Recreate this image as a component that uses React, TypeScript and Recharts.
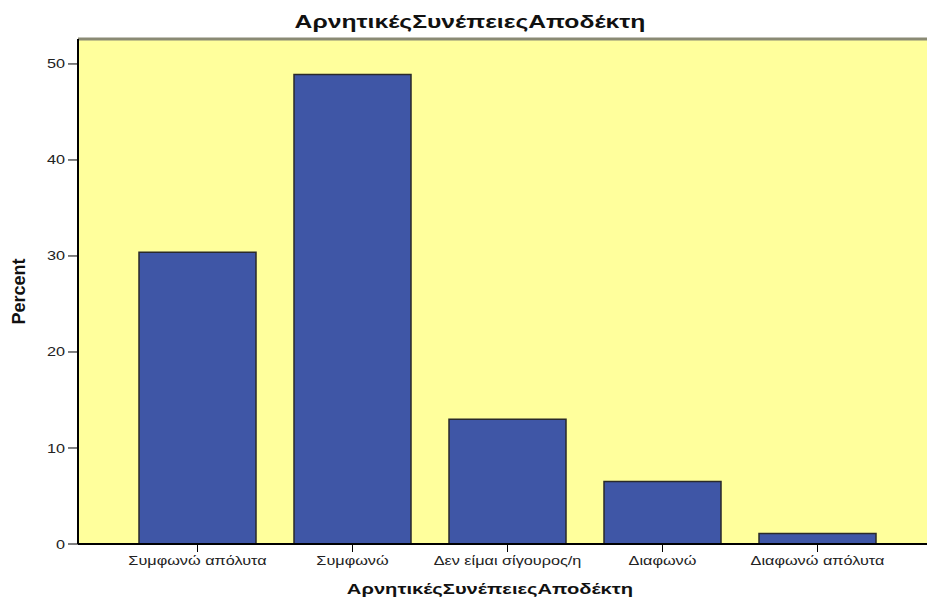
import { Bar, BarChart, CartesianGrid, ReferenceLine, XAxis, YAxis } from 'recharts';

const categories = ['Συμφωνώ απόλυτα', 'Συμφωνώ', 'Δεν είμαι σίγουρος/η', 'Διαφωνώ', 'Διαφωνώ απόλυτα'];
const percents = [30.4, 48.9, 13.0, 6.5, 1.1];
const yTicks = [0, 10, 20, 30, 40, 50];

const data = categories.map((name, i) => ({ name, value: percents[i] }));

const FONT = '"Liberation Sans", Arial, sans-serif';
const Y_MAX = 52.6;
// the reference picture is stretched sideways, so horizontal text is widened
const STRETCH = 1.3;

function XTick({ x, y, payload }: any) {
	return (
		<g transform={`translate(${x},${y})`}>
			<text transform={`scale(${STRETCH},1)`} textAnchor="middle" dy={11} fontSize={12.5} fill="#222" fontFamily={FONT}>
				{payload.value}
			</text>
		</g>
	);
}

function YTick({ x, y, payload }: any) {
	return (
		<g transform={`translate(${x},${y})`}>
			<text transform={`scale(${STRETCH},1)`} textAnchor="end" dy={4.5} fontSize={12.5} fill="#222" fontFamily={FONT}>
				{payload.value}
			</text>
		</g>
	);
}

function StretchedText({ top, left, size, children }: { top: number; left: number; size: number; children: string }) {
	return (
		<div
			style={{
				position: 'absolute',
				top,
				left,
				fontSize: size,
				fontWeight: 'bold',
				color: '#111',
				whiteSpace: 'nowrap',
				lineHeight: 1,
				transform: `translateX(-50%) scaleX(${STRETCH})`,
			}}
		>
			{children}
		</div>
	);
}

export default function App() {
	return (
		<div
			style={{
				position: 'absolute',
				left: 0,
				top: 0,
				width: 927,
				height: 601,
				overflow: 'hidden',
				background: '#fff',
				fontFamily: FONT,
			}}
		>
			<BarChart
				width={940}
				height={601}
				data={data}
				margin={{ top: 39, right: 3, bottom: 0, left: 0 }}
				style={{ fontFamily: FONT }}
			>
				<CartesianGrid fill="#FFFF9C" stroke="none" horizontal={false} vertical={false} />
				<XAxis
					dataKey="name"
					height={57}
					padding={{ left: 42, right: 42 }}
					tickSize={8}
					axisLine={{ stroke: '#000', strokeWidth: 2 }}
					tickLine={{ stroke: '#000' }}
					tick={<XTick />}
					interval={0}
				/>
				<YAxis
					width={78}
					domain={[0, Y_MAX]}
					ticks={yTicks}
					tickSize={10}
					tickMargin={3}
					axisLine={{ stroke: '#000', strokeWidth: 2 }}
					tickLine={{ stroke: '#000' }}
					tick={<YTick />}
					label={{
						value: 'Percent',
						angle: -90,
						position: 'insideLeft',
						offset: 19,
						style: { fontSize: 18, fontWeight: 'bold', fill: '#111', textAnchor: 'middle' },
					}}
				/>
				<ReferenceLine y={Y_MAX} stroke="#8a8a74" strokeWidth={3} />
				<Bar
					dataKey="value"
					barSize={117}
					fill="#3F56A6"
					stroke="#2a2a2a"
					strokeWidth={1.5}
					isAnimationActive={false}
				/>
			</BarChart>
			<StretchedText top={12} left={470} size={19}>
				ΑρνητικέςΣυνέπειεςΑποδέκτη
			</StretchedText>
			<StretchedText top={581} left={490} size={15.5}>
				ΑρνητικέςΣυνέπειεςΑποδέκτη
			</StretchedText>
		</div>
	);
}
